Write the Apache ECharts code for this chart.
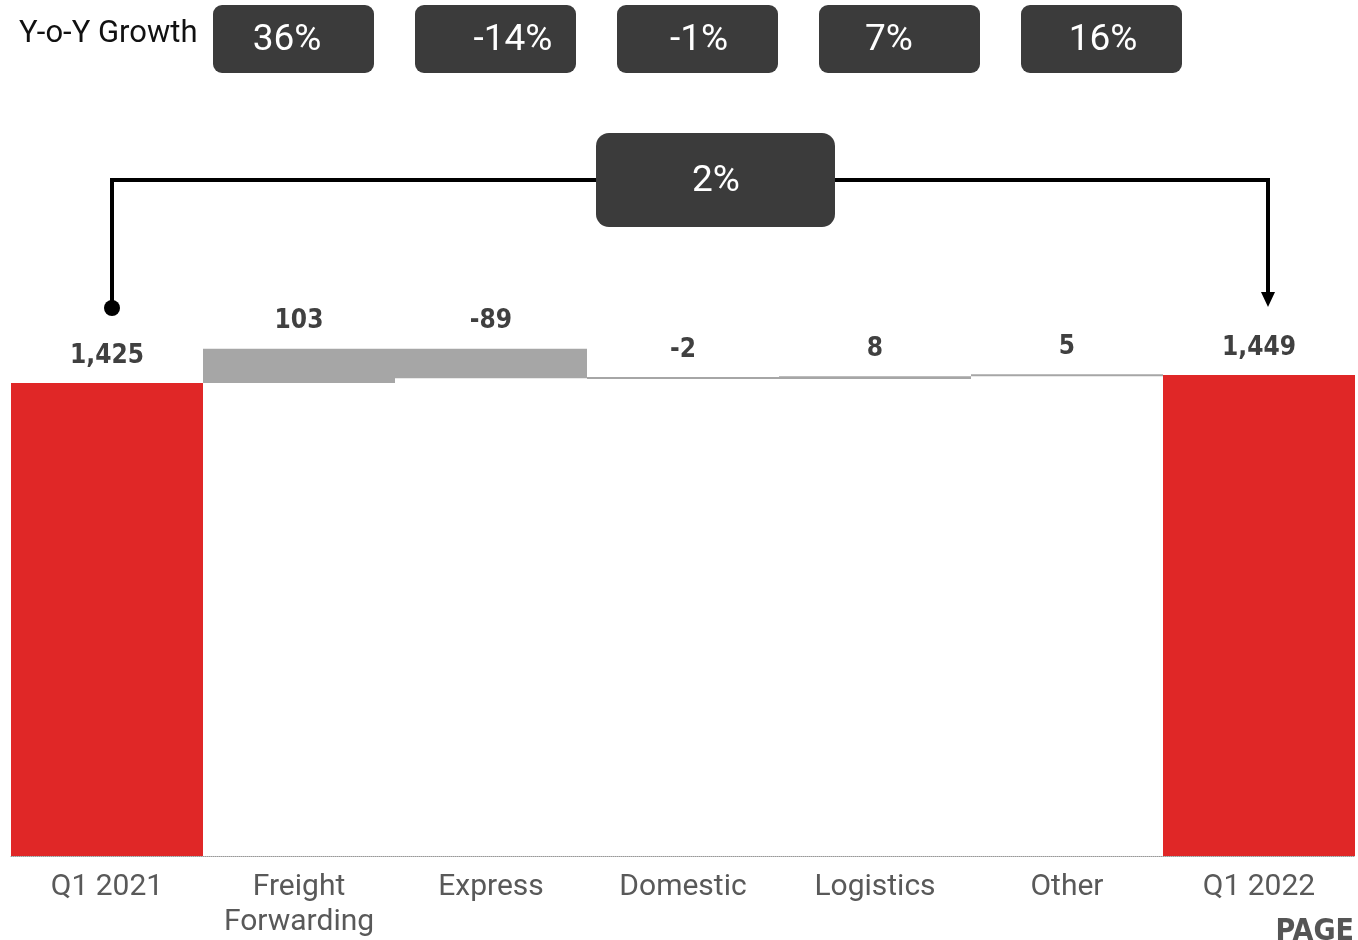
<!DOCTYPE html>
<html>
<head>
<meta charset="utf-8">
<script src="https://cdn.jsdelivr.net/npm/echarts@6/dist/echarts.min.js"></script>
<style>
html,body{margin:0;padding:0;background:#fff;}
#chart{width:1358px;height:940px;}
</style>
</head>
<body>
<div id="chart"></div>
<script>
const categories = ['Q1 2021', 'Freight\nForwarding', 'Express', 'Domestic', 'Logistics', 'Other', 'Q1 2022'];
const values = [1425, 103, -89, -2, 8, 5, 1449];
const isTotal = [true, false, false, false, false, false, true];
const yoyLabels = ['36%', '-14%', '-1%', '7%', '16%'];
const totalGrowth = '2%';

const baseData = [], barData = [];
let running = 0;
values.forEach((v, i) => {
  if (isTotal[i]) {
    baseData.push(0);
    barData.push({value: v, raw: v, itemStyle: {color: '#e02727'}});
    running = v;
  } else {
    const next = running + v;
    baseData.push(Math.min(running, next));
    barData.push({value: Math.abs(v), raw: v, itemStyle: {color: '#a6a6a6'}});
    running = next;
  }
});

const labelFont = '"DejaVu Sans Condensed", "Liberation Sans Narrow", sans-serif';
const chart = echarts.init(document.getElementById('chart'));

const yoyBoxes = [
  {x: 213, w: 161, tx: 287},
  {x: 415, w: 161, tx: 513},
  {x: 617, w: 161, tx: 699},
  {x: 819, w: 161, tx: 889},
  {x: 1021, w: 161, tx: 1103}
];
const graphics = [
  {type: 'text', x: 19, y: 34, style: {text: 'Y-o-Y Growth', font: '31px Roboto', fill: '#111', verticalAlign: 'middle'}}
];
yoyLabels.forEach((t, i) => {
  const b = yoyBoxes[i];
  graphics.push({type: 'rect', shape: {x: b.x, y: 5, width: b.w, height: 68, r: 9}, style: {fill: '#3b3b3b'}});
  graphics.push({type: 'text', x: b.tx, y: 41, style: {text: t, font: '37px Roboto', fill: '#fff', align: 'center', verticalAlign: 'middle'}});
});
// bracket
graphics.push({type: 'polyline', shape: {points: [[112, 308], [112, 180], [1268, 180], [1268, 295]]}, style: {stroke: '#000', lineWidth: 4, fill: null}});
graphics.push({type: 'circle', shape: {cx: 112, cy: 308, r: 8}, style: {fill: '#000'}});
graphics.push({type: 'polygon', shape: {points: [[1261, 292], [1275, 292], [1268, 307]]}, style: {fill: '#000'}});
graphics.push({type: 'rect', shape: {x: 596, y: 133, width: 239, height: 94, r: 13}, style: {fill: '#3b3b3b'}});
graphics.push({type: 'text', x: 716, y: 182, style: {text: totalGrowth, font: '37px Roboto', fill: '#fff', align: 'center', verticalAlign: 'middle'}});
graphics.push({type: 'text', x: 1354, y: 917, style: {text: 'PAGE', font: 'bold 30px ' + labelFont, fill: '#555', align: 'right', verticalAlign: 'top'}});

chart.setOption({
  animation: false,
  grid: {left: 11, right: 3, top: 192, bottom: 83, containLabel: false},
  xAxis: {
    type: 'category',
    data: categories,
    axisLine: {lineStyle: {color: '#999', type: 'dotted', width: 1}},
    axisTick: {show: false},
    axisLabel: {fontFamily: 'Roboto', fontSize: 30, color: '#595959', lineHeight: 35, margin: 14, interval: 0}
  },
  yAxis: {type: 'value', min: 0, max: 2000, show: false, splitLine: {show: false}},
  series: [
    {type: 'bar', stack: 'w', data: baseData, itemStyle: {color: 'transparent'}, barCategoryGap: 0, silent: true},
    {
      type: 'bar', stack: 'w', data: barData, barCategoryGap: 0, barMinHeight: 2,
      label: {
        show: true, position: 'top', distance: 14,
        fontFamily: labelFont, fontWeight: 'bold', fontSize: 26, color: '#404040',
        formatter: p => p.data.raw.toLocaleString('en-US')
      }
    }
  ],
  graphic: graphics
});
</script>
</body>
</html>
